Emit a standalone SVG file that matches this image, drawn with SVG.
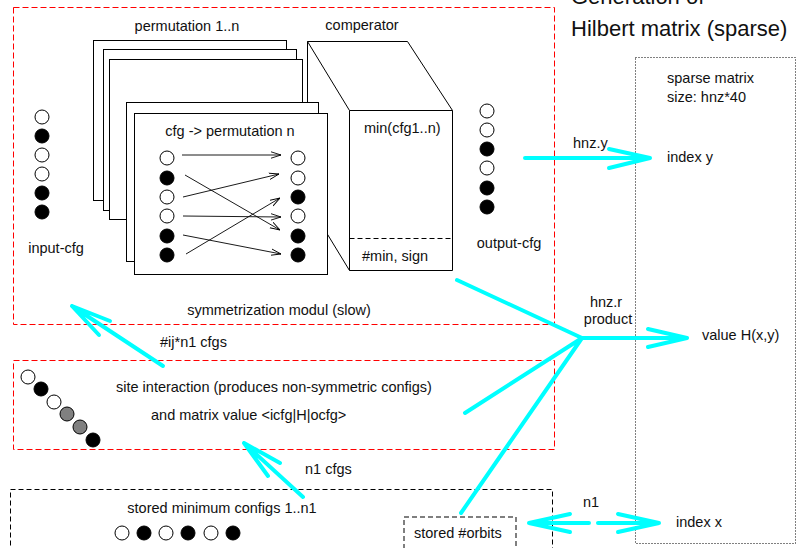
<svg xmlns="http://www.w3.org/2000/svg" width="797" height="548" viewBox="0 0 797 548">
  <style>
    text { font-family: "Liberation Sans", Arial, Helvetica, sans-serif; font-size: 14.5px; fill: #111; }
    .title { font-size: 22px; }
    .mid { text-anchor: middle; }
    .redbox { fill: none; stroke: #ff0000; stroke-width: 1; stroke-dasharray: 6 3; }
    .blkbox { fill: none; stroke: #000; stroke-width: 1; stroke-dasharray: 5 3; }
    .graybox { fill: none; stroke: #555; stroke-width: 1.5; stroke-dasharray: 5 3; }
    .dotbox { fill: none; stroke: #000; stroke-width: 1; stroke-dasharray: 1 2; }
    .card { fill: #fff; stroke: #000; stroke-width: 1; }
    .w { fill: #fff; stroke: #000; stroke-width: 1; }
    .b { fill: #000; stroke: #000; stroke-width: 1; }
    .g { fill: #808080; stroke: #000; stroke-width: 1; }
    .perm { fill: none; stroke: #000; stroke-width: 0.9; marker-end: url(#thin); }
    .flow { fill: none; stroke: #00ffff; stroke-width: 4; stroke-linecap: round; stroke-linejoin: round; }
  </style>
  <defs>
    <marker id="thin" viewBox="0 0 10 8" refX="10" refY="4" markerWidth="10" markerHeight="8" markerUnits="userSpaceOnUse" orient="auto">
      <path d="M0,0.8 L10,4 L0,7.2" fill="none" stroke="#000" stroke-width="0.9"/>
    </marker>
  </defs>

  <rect width="797" height="548" fill="#fff"/>

  <!-- title -->
  <text class="title" x="571" y="4">Generation of</text>
  <text class="title" x="571" y="36">Hilbert matrix (sparse)</text>

  <!-- symmetrization module -->
  <g id="symmetrization">
    <rect class="redbox" x="13.5" y="7.5" width="541" height="317"/>
    <text class="mid" x="279" y="315">symmetrization modul (slow)</text>
  </g>

  <g id="input-cfg">
    <circle class="w" cx="42" cy="117" r="7"/>
    <circle class="b" cx="42" cy="136" r="7"/>
    <circle class="w" cx="42" cy="155" r="7"/>
    <circle class="w" cx="42" cy="174" r="7"/>
    <circle class="b" cx="42" cy="193" r="7"/>
    <circle class="b" cx="42" cy="212" r="7"/>
    <text class="mid" x="56" y="253">input-cfg</text>
  </g>

  <!-- comparator block, drawn behind the permutation cards -->
  <g id="comparator">
    <text class="mid" x="362" y="30">comperator</text>
    <polygon class="card" points="307.5,41.5 407.5,41.5 452.5,110.5 452.5,270.5 349.5,270.5 307.5,201.5"/>
    <polyline fill="none" stroke="#000" stroke-width="1" points="307.5,41.5 349.5,110.5 452.5,110.5"/>
    <line x1="349.5" y1="110.5" x2="349.5" y2="270.5" stroke="#000" stroke-width="1"/>
    <line x1="349.5" y1="238.5" x2="452.5" y2="238.5" stroke="#000" stroke-width="1" stroke-dasharray="5 3"/>
    <text x="364" y="133">min(cfg1..n)</text>
    <text x="362" y="261">#min, sign</text>
  </g>

  <g id="permutations">
    <text class="mid" x="187" y="31">permutation 1..n</text>
    <rect class="card" x="93.5" y="40.5" width="193" height="160"/>
    <rect class="card" x="103.5" y="49.5" width="193" height="161"/>
    <rect class="card" x="109.5" y="59.5" width="193" height="160"/>
    <rect class="card" x="126.5" y="102.5" width="192" height="159"/>
    <rect class="card" x="134.5" y="113.5" width="193" height="161"/>
    <text class="mid" x="230" y="136">cfg -&gt; permutation n</text>
    <circle class="w" cx="167" cy="158" r="7"/>
    <circle class="b" cx="167" cy="178" r="7"/>
    <circle class="w" cx="167" cy="197" r="7"/>
    <circle class="w" cx="167" cy="216" r="7"/>
    <circle class="b" cx="167" cy="236" r="7"/>
    <circle class="b" cx="167" cy="255" r="7"/>
    <circle class="w" cx="298" cy="158" r="7"/>
    <circle class="w" cx="298" cy="178" r="7"/>
    <circle class="b" cx="298" cy="197" r="7"/>
    <circle class="w" cx="298" cy="216" r="7"/>
    <circle class="b" cx="298" cy="236" r="7"/>
    <circle class="b" cx="298" cy="255" r="7"/>
    <line class="perm" x1="182" y1="155" x2="281" y2="155"/>
    <line class="perm" x1="185" y1="175" x2="280" y2="230"/>
    <line class="perm" x1="183" y1="197" x2="279" y2="174"/>
    <line class="perm" x1="183" y1="216" x2="281" y2="217"/>
    <line class="perm" x1="183" y1="235" x2="281" y2="254"/>
    <line class="perm" x1="186" y1="254" x2="280" y2="198"/>
  </g>

  <g id="output-cfg">
    <circle class="w" cx="487" cy="111" r="7"/>
    <circle class="w" cx="487" cy="130" r="7"/>
    <circle class="b" cx="487" cy="149" r="7"/>
    <circle class="w" cx="487" cy="168" r="7"/>
    <circle class="b" cx="487" cy="188" r="7"/>
    <circle class="b" cx="487" cy="207" r="7"/>
    <text class="mid" x="509" y="248">output-cfg</text>
  </g>

  <g id="site-interaction">
    <rect class="redbox" x="13.5" y="360.5" width="541" height="89"/>
    <circle class="w" cx="28" cy="377" r="7"/>
    <circle class="b" cx="41" cy="389" r="7"/>
    <circle class="w" cx="54" cy="402" r="7"/>
    <circle class="g" cx="67" cy="414" r="7"/>
    <circle class="g" cx="80" cy="427" r="7"/>
    <circle class="b" cx="93" cy="440" r="7"/>
    <text x="116" y="392">site interaction (produces non-symmetric configs)</text>
    <text x="151" y="420">and matrix value &lt;icfg|H|ocfg&gt;</text>
  </g>

  <g id="stored-configs">
    <rect class="blkbox" x="10.5" y="489.5" width="542" height="70"/>
    <text class="mid" x="222" y="513">stored minimum configs 1..n1</text>
    <circle class="w" cx="122" cy="533" r="7"/>
    <circle class="b" cx="144" cy="533" r="7"/>
    <circle class="w" cx="166" cy="533" r="7"/>
    <circle class="b" cx="188" cy="533" r="7"/>
    <circle class="w" cx="211" cy="533" r="7"/>
    <circle class="b" cx="233" cy="533" r="7"/>
  </g>

  <g id="stored-orbits">
    <rect class="graybox" x="404" y="517" width="112" height="40"/>
    <text x="414" y="538">stored #orbits</text>
  </g>

  <g id="sparse-matrix">
    <rect class="dotbox" x="635.5" y="57.5" width="160" height="486"/>
    <text x="667" y="83">sparse matrix</text>
    <text x="667" y="102">size: hnz*40</text>
    <text x="667" y="162">index y</text>
    <text x="702" y="340">value H(x,y)</text>
    <text x="676" y="527">index x</text>
  </g>

  <!-- data flow -->
  <g id="connectors">
    <path class="flow" d="M525,158 H650 M609,149 L650,158 L609,168"/>
    <text x="573" y="148">hnz.y</text>

    <path class="flow" d="M457,280 L582,338 M465,413 L582,338 M461,513 L582,338 M582,338 H687 M648,329 L687,338 L648,347"/>
    <text class="mid" x="606" y="307">hnz.r</text>
    <text class="mid" x="608" y="324">product</text>

    <path class="flow" d="M163,366 L72,306 M110,321 L72,306 L99,335"/>
    <text x="160" y="347">#ij*n1 cfgs</text>

    <path class="flow" d="M303,497 L244,443 M280,463 L244,443 L268,476"/>
    <text x="305" y="474">n1 cfgs</text>

    <path class="flow" d="M589,523 H529 M570,514 L529,523 L570,532 M598,523 H659 M618,514 L659,523 L618,532"/>
    <text class="mid" x="591" y="507">n1</text>
  </g>
</svg>
